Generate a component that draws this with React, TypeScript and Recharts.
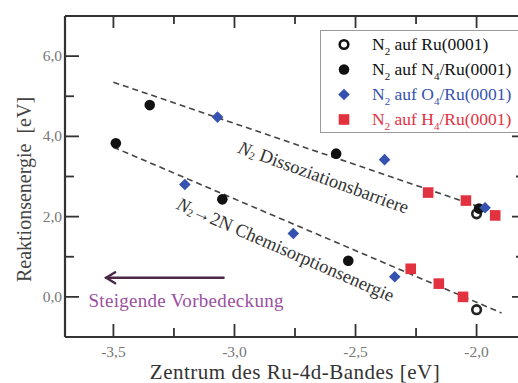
import {
  ComposedChart,
  Label,
  Legend,
  Line,
  ReferenceDot,
  ReferenceLine,
  Scatter,
  XAxis,
  YAxis,
} from "recharts";

const SERIF = '"Liberation Serif", "Times New Roman", Tinos, Times, "DejaVu Serif", "Noto Serif", serif';
const AXIS = "#333333";
const TICK_TEXT = "#777777";
const BLUE = "#3552b0";
const RED = "#e2323f";
const ARROW = "#4b2748";
const ARROW_TEXT = "#9b4fa0";

// ticks (minor ones carry no label)
const X_TICKS = [-3.5, -3.25, -3.0, -2.75, -2.5, -2.25, -2.0];
const X_MAJOR = [-3.5, -3.0, -2.5, -2.0];
const Y_TICKS = [0, 1, 2, 3, 4, 5, 6];
const Y_MAJOR = [0, 2, 4, 6];

// series
const ruPoints = [
  { x: -2.0, y: 2.07 },
  { x: -2.0, y: -0.32 },
];
const n4Points = [
  { x: -3.35, y: 4.78 },
  { x: -2.58, y: 3.57 },
  { x: -1.99, y: 2.2 },
  { x: -3.49, y: 3.83 },
  { x: -3.05, y: 2.43 },
  { x: -2.53, y: 0.9 },
];
const o4Points = [
  { x: -3.07, y: 4.48 },
  { x: -2.38, y: 3.42 },
  { x: -1.965, y: 2.22 },
  { x: -3.205, y: 2.8 },
  { x: -2.757, y: 1.58 },
  { x: -2.338, y: 0.5 },
];
const h4Points = [
  { x: -2.2, y: 2.6 },
  { x: -2.044, y: 2.4 },
  { x: -1.923, y: 2.03 },
  { x: -2.272, y: 0.7 },
  { x: -2.156, y: 0.33 },
  { x: -2.056, y: 0.0 },
];

// linear fits (dashed)
const barrierFit = [
  { x: -3.5, y: 5.35 },
  { x: -1.9, y: 2.06 },
];
const chemFit = [
  { x: -3.5, y: 3.73 },
  { x: -1.897, y: -0.4 },
];

// legend rows: [text, subscript] pieces
const LEGEND = [
  { shape: "open", color: "#111", text: "#111", parts: [["N", "2"], [" auf Ru(0001)", ""]] },
  { shape: "circle", color: "#111", text: "#111", parts: [["N", "2"], [" auf N", "4"], ["/Ru(0001)", ""]] },
  { shape: "diamond", color: BLUE, text: BLUE, parts: [["N", "2"], [" auf O", "4"], ["/Ru(0001)", ""]] },
  { shape: "square", color: RED, text: RED, parts: [["N", "2"], [" auf H", "4"], ["/Ru(0001)", ""]] },
];

const fmt = (v: number) => v.toFixed(1).replace(".", ",");
const isMajor = (v: number, majors: number[]) => majors.some((m) => Math.abs(m - v) < 1e-6);

function marker(shape: string, cx: number, cy: number, color: string) {
  if (shape === "open")
    return <circle cx={cx} cy={cy} r={4.3} fill="none" stroke={color} strokeWidth={2.6} />;
  if (shape === "circle") return <circle cx={cx} cy={cy} r={5.3} fill={color} />;
  if (shape === "diamond")
    return (
      <polygon
        points={`${cx},${cy - 5.8} ${cx + 5.8},${cy} ${cx},${cy + 5.8} ${cx - 5.8},${cy}`}
        fill={color}
      />
    );
  return <rect x={cx - 5.3} y={cy - 5.3} width={10.6} height={10.6} fill={color} />;
}

const shapeFor = (shape: string, color: string) => (props: any) =>
  props.cx == null ? <g /> : marker(shape, props.cx, props.cy, color);

function BottomTick(props: any) {
  const { x, y, payload } = props;
  const major = isMajor(payload.value, X_MAJOR);
  return (
    <g>
      <line x1={x} y1={y} x2={x} y2={y - (major ? 13 : 9)} stroke={AXIS} strokeWidth={1.8} />
      {major && (
        <text x={x} y={y + 20} textAnchor="middle" fill={TICK_TEXT} fontSize={15.5} fontFamily={SERIF}>
          {fmt(payload.value)}
        </text>
      )}
    </g>
  );
}

function TopTick(props: any) {
  const { x, y, payload } = props;
  const major = isMajor(payload.value, X_MAJOR);
  return <line x1={x} y1={y} x2={x} y2={y + (major ? 12 : 8)} stroke={AXIS} strokeWidth={1.8} />;
}

function LeftTick(props: any) {
  const { x, y, payload } = props;
  const major = isMajor(payload.value, Y_MAJOR);
  return (
    <g>
      <line x1={x} y1={y} x2={x + (major ? 14 : 9)} y2={y} stroke={AXIS} strokeWidth={1.8} />
      {major && (
        <text x={x - 3} y={y + 5} textAnchor="end" fill={TICK_TEXT} fontSize={15.5} fontFamily={SERIF}>
          {fmt(payload.value)}
        </text>
      )}
    </g>
  );
}

function RightTick(props: any) {
  const { x, y, payload } = props;
  const major = isMajor(payload.value, Y_MAJOR);
  return <line x1={x} y1={y} x2={x - (major ? 13 : 9)} y2={y} stroke={AXIS} strokeWidth={1.8} />;
}

function YTitle(props: any) {
  const vb = props.viewBox || { x: 5, y: 16, width: 60, height: 321 };
  const cx = vb.x + 19;
  const cy = vb.y + vb.height / 2 + 13;
  return (
    <text
      x={cx}
      y={cy}
      transform={`rotate(-90 ${cx} ${cy})`}
      textAnchor="middle"
      dominantBaseline="central"
      fill="#444"
      fontSize={20}
      fontFamily={SERIF}
    >
      Reaktionsenergie{"\u00a0\u00a0"}[eV]
    </text>
  );
}

const rotatedLabel = (
  angle: number,
  size: number,
  lines: { t: string; sub?: boolean; italic?: boolean }[]
) =>
  (props: any) => {
    const { cx, cy } = props;
    if (cx == null) return <g />;
    return (
      <text
        x={cx}
        y={cy}
        transform={`rotate(${angle} ${cx} ${cy})`}
        textAnchor="middle"
        dominantBaseline="central"
        fill="#333"
        fontSize={size}
        fontFamily={SERIF}
      >
        {lines.map((p, i) =>
          p.sub ? (
            <tspan key={i} fontSize={11} dy={4}>
              {p.t}
            </tspan>
          ) : (
            <tspan key={i} fontStyle={p.italic ? "italic" : "normal"} dy={i > 0 && lines[i - 1].sub ? -4 : 0}>
              {p.t}
            </tspan>
          )
        )}
      </text>
    );
  };

const barrierLabel = rotatedLabel(20, 18.5, [
  { t: "N", italic: true },
  { t: "2", sub: true },
  { t: " Dissoziationsbarriere" },
]);
const chemLabel = rotatedLabel(23.5, 18.5, [
  { t: "N", italic: true },
  { t: "2", sub: true },
  { t: "\u21922N Chemisorptionsenergie" },
]);

function ArrowShape(props: any) {
  const { x1, y1, x2, y2 } = props;
  if (x1 == null) return <g />;
  return (
    <g stroke={ARROW} strokeWidth={2.4} fill="none" strokeLinecap="round">
      <line x1={x1} y1={y1} x2={x2} y2={y2} />
      <polyline points={`${x2 + 9},${y2 - 5.5} ${x2},${y2} ${x2 + 9},${y2 + 5.5}`} />
    </g>
  );
}

function ArrowText(props: any) {
  const { cx, cy } = props;
  if (cx == null) return <g />;
  return (
    <text
      x={cx}
      y={cy}
      fill={ARROW_TEXT}
      fontSize={19}
      letterSpacing={0.3}
      fontFamily={SERIF}
      dominantBaseline="central"
    >
      Steigende Vorbedeckung
    </text>
  );
}

function LegendBox() {
  return (
    <div
      style={{
        border: "1px solid #9a9a9a",
        background: "#fff",
        width: 215,
        height: 103,
        boxSizing: "border-box",
        paddingTop: 1,
        fontFamily: SERIF,
      }}
    >
      {LEGEND.map((row, i) => (
        <div key={i} style={{ height: 25, display: "flex", alignItems: "center" }}>
          <svg width={46} height={25} style={{ flex: "none" }}>
            {marker(row.shape, 23, 12.5, row.color)}
          </svg>
          <span style={{ fontSize: 17.5, color: row.text, whiteSpace: "nowrap", marginLeft: 5, lineHeight: "25px" }}>
            {row.parts.map(([t, s], j) => (
              <span key={j}>
                {t}
                {s && <sub style={{ fontSize: 11, lineHeight: 0 }}>{s}</sub>}
              </span>
            ))}
          </span>
        </div>
      ))}
    </div>
  );
}

export default function App() {
  return (
    <div
      style={{
        position: "absolute",
        left: 0,
        top: 0,
        width: 518,
        height: 383,
        overflow: "hidden",
        background: "#fff",
        fontFamily: SERIF,
      }}
    >
      <ComposedChart width={545} height={383} margin={{ top: 15, right: 0, left: 5, bottom: 0 }}>
        <XAxis
          xAxisId="b"
          dataKey="x"
          type="number"
          domain={[-3.7, -1.8]}
          ticks={X_TICKS}
          interval={0}
          allowDataOverflow
          height={46}
          axisLine={{ stroke: AXIS, strokeWidth: 2.2 }}
          tickLine={false}
          tickSize={0}
          tickMargin={0}
          tick={BottomTick}
        >
          <Label
            value="Zentrum des Ru-4d-Bandes [eV]"
            position="insideBottom"
            offset={4}
            style={{ fontSize: 21, letterSpacing: 0.5, fontFamily: SERIF, fill: "#333" }}
          />
        </XAxis>
        <XAxis
          xAxisId="t"
          orientation="top"
          dataKey="x"
          type="number"
          domain={[-3.7, -1.8]}
          ticks={X_TICKS}
          interval={0}
          allowDataOverflow
          height={1}
          axisLine={{ stroke: AXIS, strokeWidth: 2.2 }}
          tickLine={false}
          tickSize={0}
          tickMargin={0}
          tick={TopTick}
        />
        <YAxis
          yAxisId="l"
          type="number"
          domain={[-1, 7]}
          ticks={Y_TICKS}
          interval={0}
          allowDataOverflow
          width={60}
          axisLine={{ stroke: AXIS, strokeWidth: 2.2 }}
          tickLine={false}
          tickSize={0}
          tickMargin={0}
          tick={LeftTick}
        >
          <Label content={YTitle} />
        </YAxis>
        <YAxis
          yAxisId="r"
          orientation="right"
          type="number"
          domain={[-1, 7]}
          ticks={Y_TICKS}
          interval={0}
          allowDataOverflow
          width={20}
          axisLine={{ stroke: AXIS, strokeWidth: 2.2 }}
          tickLine={false}
          tickSize={0}
          tickMargin={0}
          tick={RightTick}
        />

        <Line
          xAxisId="b"
          yAxisId="l"
          data={barrierFit}
          dataKey="y"
          stroke="#444"
          strokeWidth={1.6}
          strokeDasharray="6 4"
          dot={false}
          activeDot={false}
          isAnimationActive={false}
          legendType="none"
        />
        <Line
          xAxisId="b"
          yAxisId="l"
          data={chemFit}
          dataKey="y"
          stroke="#444"
          strokeWidth={1.6}
          strokeDasharray="6 4"
          dot={false}
          activeDot={false}
          isAnimationActive={false}
          legendType="none"
        />

        <ReferenceDot xAxisId="b" yAxisId="l" x={-2.632} y={2.975} r={0} shape={barrierLabel} ifOverflow="visible" />
        <ReferenceDot xAxisId="b" yAxisId="l" x={-2.789} y={1.175} r={0} shape={chemLabel} ifOverflow="visible" />
        <ReferenceLine
          xAxisId="b"
          yAxisId="l"
          segment={[
            { x: -3.045, y: 0.475 },
            { x: -3.53, y: 0.475 },
          ]}
          shape={ArrowShape}
          ifOverflow="visible"
        />
        <ReferenceDot xAxisId="b" yAxisId="l" x={-3.603} y={-0.08} r={0} shape={ArrowText} ifOverflow="visible" />

        <Scatter xAxisId="b" yAxisId="l" data={h4Points} dataKey="y" shape={shapeFor("square", RED)} isAnimationActive={false} />
        <Scatter xAxisId="b" yAxisId="l" data={ruPoints} dataKey="y" shape={shapeFor("open", "#222")} isAnimationActive={false} />
        <Scatter xAxisId="b" yAxisId="l" data={n4Points} dataKey="y" shape={shapeFor("circle", "#111")} isAnimationActive={false} />
        <Scatter xAxisId="b" yAxisId="l" data={o4Points} dataKey="y" shape={shapeFor("diamond", BLUE)} isAnimationActive={false} />

        <Legend
          layout="vertical"
          align="center"
          verticalAlign="middle"
          content={LegendBox}
          wrapperStyle={{ position: "absolute", left: 320, top: 30, width: 215, height: 103 }}
        />
      </ComposedChart>
    </div>
  );
}
